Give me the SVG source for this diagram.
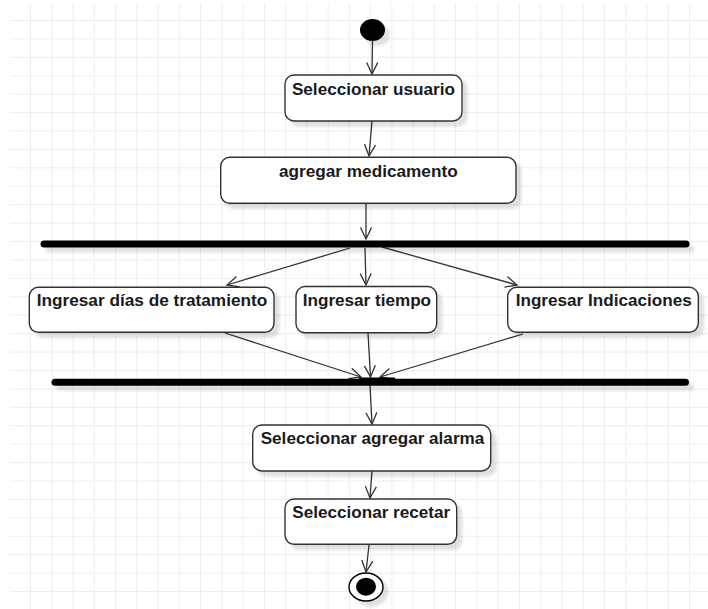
<svg xmlns="http://www.w3.org/2000/svg" width="708" height="609" viewBox="0 0 708 609">
  <defs>
    <pattern id="grid" x="30" y="20" width="21.26" height="18.42" patternUnits="userSpaceOnUse">
      <path d="M0.5,0 V18.42 M0,0.5 H21.26" fill="none" stroke="#ededed" stroke-width="1"/>
    </pattern>
    <filter id="shadow" x="-10%" y="-20%" width="130%" height="200%">
      <feGaussianBlur in="SourceAlpha" stdDeviation="1.5"/>
      <feOffset dx="5" dy="5" result="off"/>
      <feComponentTransfer>
        <feFuncA type="linear" slope="0.12"/>
      </feComponentTransfer>
      <feMerge>
        <feMergeNode/>
        <feMergeNode in="SourceGraphic"/>
      </feMerge>
    </filter>
    <marker id="open" markerUnits="userSpaceOnUse" markerWidth="14" markerHeight="14" refX="12" refY="6" orient="auto">
      <path d="M0.5,0.5 L12,6 L0.5,11.5" fill="none" stroke="#333333" stroke-width="1.3"/>
    </marker>
    <style>
      .act { fill: #ffffff; stroke: #333333; stroke-width: 1.4; filter: url(#shadow); }
      .lbl { font-family: "Liberation Sans", Arial, Helvetica, sans-serif; font-weight: bold; font-size: 16px; fill: #1a1a1a; text-anchor: middle; }
      .bar { fill: #000000; filter: url(#shadow); }
      .flow { fill: none; stroke: #333333; stroke-width: 1.3; marker-end: url(#open); }
    </style>
  </defs>

  <!-- background and grid -->
  <rect x="0" y="0" width="708" height="609" fill="#ffffff"/>
  <rect x="10" y="4" width="698" height="605" fill="url(#grid)"/>

  <!-- connectors -->
  <g id="connectors">
    <path class="flow" d="M372.5,41 L372,74"/>
    <path class="flow" d="M372,121 L369,156"/>
    <path class="flow" d="M366,203 L366,239"/>
    <path class="flow" d="M350,248 L227,285"/>
    <path class="flow" d="M365,248 L366,285"/>
    <path class="flow" d="M382,247 L517,285"/>
    <path class="flow" d="M225,333 L361,377"/>
    <path class="flow" d="M368,333 L370.5,377"/>
    <path class="flow" d="M523,334 L380,377"/>
    <path class="flow" d="M370,385 L372,424"/>
    <path class="flow" d="M372,471 L370,498"/>
    <path class="flow" d="M369,545 L366,572"/>
  </g>

  <!-- initial node -->
  <g id="start">
    <ellipse cx="372.5" cy="30" rx="12.5" ry="11" fill="#000000" filter="url(#shadow)"/>
  </g>

  <g id="seleccionar-usuario">
    <rect class="act" x="285" y="75" width="177" height="46" rx="9" ry="9"/>
    <text class="lbl" x="373.4" y="95" textLength="163" lengthAdjust="spacingAndGlyphs">Seleccionar usuario</text>
  </g>

  <g id="agregar-medicamento">
    <rect class="act" x="220.7" y="157.3" width="295.3" height="46" rx="9" ry="9"/>
    <text class="lbl" x="368.3" y="177.3" textLength="178.7" lengthAdjust="spacingAndGlyphs">agregar medicamento</text>
  </g>

  <!-- fork bar -->
  <g id="fork">
    <rect class="bar" x="40.5" y="240.5" width="649" height="7" rx="3.5" ry="3.5"/>
  </g>

  <g id="ingresar-dias">
    <rect class="act" x="29.3" y="287.3" width="244.7" height="45" rx="9" ry="9"/>
    <text class="lbl" x="152" y="306" textLength="230.6" lengthAdjust="spacingAndGlyphs">Ingresar días de tratamiento</text>
  </g>

  <g id="ingresar-tiempo">
    <rect class="act" x="296" y="286.5" width="140.7" height="46.3" rx="9" ry="9"/>
    <text class="lbl" x="366.9" y="306" textLength="128.3" lengthAdjust="spacingAndGlyphs">Ingresar tiempo</text>
  </g>

  <g id="ingresar-indicaciones">
    <rect class="act" x="507.7" y="287.3" width="190.6" height="45" rx="9" ry="9"/>
    <text class="lbl" x="603.7" y="306" textLength="176" lengthAdjust="spacingAndGlyphs">Ingresar Indicaciones</text>
  </g>

  <!-- join bar -->
  <g id="join">
    <rect class="bar" x="51.5" y="378.8" width="637.5" height="7" rx="3.5" ry="3.5"/>
    <rect x="359" y="377.5" width="36" height="5" fill="#000000"/>
  </g>

  <g id="seleccionar-alarma">
    <rect class="act" x="252.7" y="425" width="238" height="46" rx="9" ry="9"/>
    <text class="lbl" x="372.5" y="444" textLength="223.6" lengthAdjust="spacingAndGlyphs">Seleccionar agregar alarma</text>
  </g>

  <g id="seleccionar-recetar">
    <rect class="act" x="285" y="499" width="171.7" height="45.3" rx="9" ry="9"/>
    <text class="lbl" x="371.2" y="518.3" textLength="157.7" lengthAdjust="spacingAndGlyphs">Seleccionar recetar</text>
  </g>

  <!-- final node -->
  <g id="end">
    <ellipse cx="366" cy="587" rx="17" ry="14" fill="#ffffff" stroke="#000000" stroke-width="1.4" filter="url(#shadow)"/>
    <ellipse cx="366" cy="586.7" rx="10" ry="9" fill="#000000"/>
  </g>
</svg>
